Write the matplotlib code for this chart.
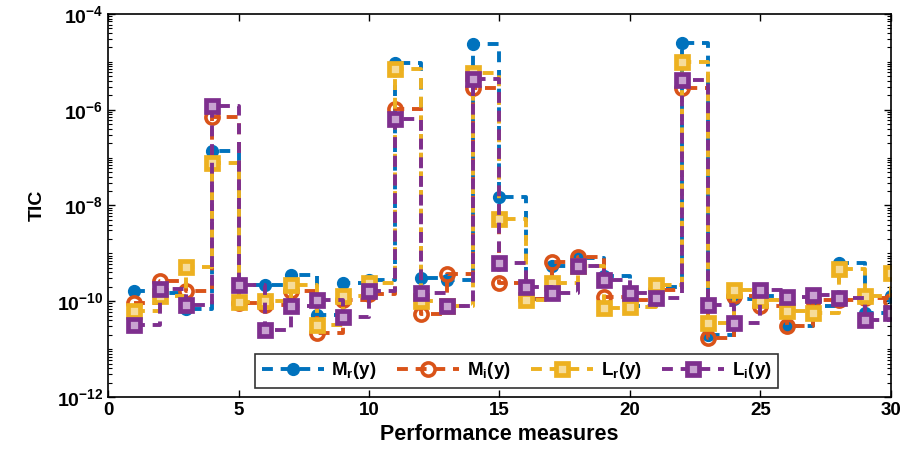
import matplotlib
matplotlib.use("Agg")
import matplotlib.pyplot as plt
from matplotlib.ticker import LogLocator, FixedLocator, NullFormatter
import numpy as np

plt.rcParams['font.family'] = ['Liberation Sans', 'DejaVu Sans']
plt.rcParams['mathtext.fontset'] = 'custom'
plt.rcParams['mathtext.rm'] = 'Liberation Sans:bold'
plt.rcParams['mathtext.bf'] = 'Liberation Sans:bold'
plt.rcParams['mathtext.it'] = 'Liberation Sans:bold'

x = list(range(1, 31))

mr = [1.6e-10, 1.5e-10, 7e-11, 1.35e-7, 2.2e-10, 2.2e-10, 3.5e-10, 5.2e-11, 2.4e-10, 2.8e-10,
      9.3e-6, 3.1e-10, 2.8e-10, 2.35e-5, 1.5e-8, 1.1e-10, 5.5e-10, 8e-10, 3.4e-10, 8e-11,
      2.0e-10, 2.45e-5, 2e-11, 1.1e-10, 1.3e-10, 3.0e-11, 8e-11, 6.3e-10, 5.6e-11, 1.3e-10]
mi = [9e-11, 2.6e-10, 1.6e-10, 7.2e-7, 9e-11, 8.5e-11, 1.6e-10, 2.2e-11, 1.05e-10, 1.4e-10,
      1.05e-6, 5.5e-11, 3.7e-10, 2.9e-6, 2.4e-10, 1.1e-10, 6.5e-10, 8.5e-10, 1.2e-10, 1.07e-10,
      1.7e-10, 2.8e-6, 1.7e-11, 1.3e-10, 7.8e-11, 3.0e-11, 1.07e-10, 1.07e-10, 1.15e-10, 1.0e-10]
lr = [6.2e-11, 1.26e-10, 5.1e-10, 7.6e-8, 9.5e-11, 1.0e-10, 2.2e-10, 3.2e-11, 1.3e-10, 2.4e-10,
      7.1e-6, 1.0e-10, 8e-11, 5.8e-6, 5.2e-9, 1.07e-10, 2.4e-10, 5.5e-10, 7.3e-11, 7.6e-11,
      2.2e-10, 1.0e-5, 3.5e-11, 1.7e-10, 1.07e-10, 6.2e-11, 5.6e-11, 4.6e-10, 1.3e-10, 3.9e-10]
li = [3.2e-11, 1.8e-10, 8.5e-11, 1.2e-6, 2.2e-10, 2.5e-11, 7.8e-11, 1.07e-10, 4.8e-11, 1.6e-10,
      6.3e-7, 1.5e-10, 7.8e-11, 4.3e-6, 6.3e-10, 2.0e-10, 1.5e-10, 5.5e-10, 2.8e-10, 1.5e-10,
      1.15e-10, 4.2e-6, 8.5e-11, 3.5e-11, 1.7e-10, 1.25e-10, 1.35e-10, 1.15e-10, 4.1e-11, 5.6e-11]

labels = [r'$\mathbf{M_r(y)}$', r'$\mathbf{M_i(y)}$',
          r'$\mathbf{L_r(y)}$', r'$\mathbf{L_i(y)}$']
xticks = [0, 5, 10, 15, 20, 25, 30]
yticks = [1e-12, 1e-10, 1e-8, 1e-6, 1e-4]

blue = '#0072BD'
orange = '#D95319'
yellow = '#EDB120'
purple = '#7E2F8E'

fig = plt.figure(figsize=(9.04, 4.63), dpi=100)
ax = fig.add_axes([0.1195, 0.1425, 0.866, 0.8275])

lw = 2.8
dash = (0, (2.8, 2.0))
ax.step(x, mr, where='post', color=blue, lw=lw, linestyle=dash, marker='o',
        ms=8.5, mfc=blue, mec=blue, label=labels[0])
ax.step(x, mi, where='post', color=orange, lw=lw, linestyle=dash, marker='o',
        ms=9.5, mfc='none', mec=orange, mew=2.6, label=labels[1])
ax.step(x, lr, where='post', color=yellow, lw=lw, linestyle=dash, marker='s',
        ms=8.5, mfc='#F6DC9A', mec=yellow, mew=3.4, label=labels[2])
ax.step(x, li, where='post', color=purple, lw=lw, linestyle=dash, marker='s',
        ms=8.5, mfc='#C9A3D1', mec=purple, mew=3.4, label=labels[3])

ax.set_yscale('log')
ax.set_xlim(0, 30)
ax.set_ylim(1e-12, 1e-4)
ax.set_xticks(xticks)
ax.set_xticklabels([str(t) for t in xticks], fontsize=13.5, fontweight='bold')
ax.yaxis.set_major_locator(FixedLocator(yticks))
ax.set_yticklabels([r'$\mathbf{10^{%d}}$' % int(np.log10(t)) for t in yticks], fontsize=14)
ax.yaxis.set_minor_locator(LogLocator(base=10, subs=np.arange(1, 10), numticks=100))
ax.yaxis.set_minor_formatter(NullFormatter())
ax.tick_params(which='both', direction='in', top=True, right=True)
ax.tick_params(which='major', length=5, width=1)
ax.tick_params(which='minor', length=3, width=0.8)
for s in ax.spines.values():
    s.set_linewidth(1.2)

ax.set_xlabel('Performance measures', fontsize=15.5, fontweight='bold', labelpad=4)
ax.set_ylabel('TIC', fontsize=14, fontweight='bold', labelpad=8)

leg = ax.legend(loc='lower center', bbox_to_anchor=(0.522, 0.0), ncol=4, fontsize=13.5,
                frameon=True, fancybox=False, edgecolor='black', handlelength=3.3,
                columnspacing=1.1, handletextpad=0.4, borderpad=0.35)
leg.get_frame().set_linewidth(1.2)

fig.savefig('out.png', dpi=100)
